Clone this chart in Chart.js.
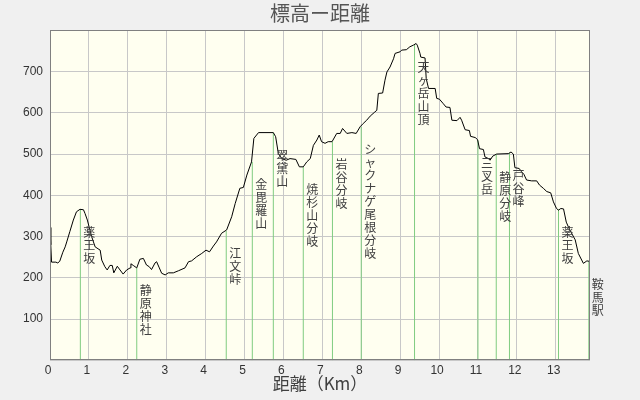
<!DOCTYPE html>
<html>
<head>
<meta charset="utf-8">
<script src="https://cdn.jsdelivr.net/npm/chart.js@4/dist/chart.umd.min.js"></script>
<style>
  html, body { margin: 0; padding: 0; background: #F0F0F0; }
  canvas { display: block; }
</style>
</head>
<body>
<canvas id="c" width="640" height="400"></canvas>
<script>
// ---- data ----
const distances = [0, 0.02, 0.04, 0.15, 0.2, 0.25, 0.33, 0.39, 0.43, 0.51, 0.6, 0.68, 0.77, 0.86, 0.9, 0.96, 1.02, 1.07, 1.16, 1.29, 1.33, 1.41, 1.47, 1.54, 1.6, 1.64, 1.73, 1.8, 1.88, 1.97, 2.06, 2.08, 2.14, 2.23, 2.31, 2.4, 2.48, 2.55, 2.61, 2.7, 2.74, 2.81, 2.87, 2.96, 3.04, 3.17, 3.3, 3.47, 3.56, 3.64, 3.77, 3.9, 4.01, 4.1, 4.2, 4.28, 4.41, 4.54, 4.67, 4.76, 4.88, 4.97, 5.06, 5.18, 5.24, 5.36, 5.74, 5.8, 5.87, 5.96, 6.07, 6.17, 6.32, 6.41, 6.51, 6.6, 6.69, 6.77, 6.86, 6.92, 6.98, 7.07, 7.15, 7.25, 7.37, 7.46, 7.52, 7.63, 7.76, 7.87, 7.97, 8.05, 8.14, 8.23, 8.35, 8.4, 8.44, 8.55, 8.61, 8.66, 8.74, 8.83, 8.87, 9.0, 9.04, 9.16, 9.25, 9.34, 9.41, 9.44, 9.51, 9.53, 9.64, 9.67, 9.73, 9.9, 9.94, 10.01, 10.11, 10.18, 10.28, 10.33, 10.46, 10.5, 10.54, 10.58, 10.67, 10.78, 10.81, 10.93, 10.99, 11.04, 11.14, 11.18, 11.27, 11.31, 11.38, 11.48, 11.78, 11.85, 11.91, 11.95, 12.06, 12.12, 12.18, 12.25, 12.38, 12.51, 12.58, 12.68, 12.77, 12.87, 12.94, 13.02, 13.07, 13.13, 13.2, 13.27, 13.35, 13.5, 13.58, 13.71, 13.8, 13.86];
const elevations = [322, 280, 238, 238, 236, 240, 262, 275, 287, 312, 340, 360, 366, 365, 356, 340, 318, 300, 275, 267, 243, 227, 219, 230, 230, 212, 228, 219, 209, 219, 224, 234, 230, 224, 245, 247, 231, 227, 220, 236, 239, 224, 211, 207, 212, 212, 217, 224, 239, 241, 251, 259, 267, 263, 277, 287, 308, 316, 348, 380, 417, 419, 449, 481, 538, 552, 552, 542, 501, 489, 485, 489, 487, 469, 469, 481, 489, 521, 534, 546, 530, 526, 530, 530, 550, 550, 562, 550, 552, 550, 566, 574, 582, 592, 602, 606, 647, 648, 679, 699, 711, 731, 744, 748, 752, 753, 760, 764, 768, 764, 744, 735, 733, 683, 659, 659, 635, 633, 622, 614, 613, 582, 581, 585, 589, 582, 559, 557, 543, 540, 535, 513, 511, 493, 489, 485, 495, 500, 501, 505, 500, 467, 465, 457, 451, 437, 435, 435, 425, 417, 409, 406, 384, 368, 364, 368, 367, 335, 318, 292, 259, 235, 241, 240];

const landmarkNames = ["薬王坂", "静原神社", "江文峠", "金毘羅山", "翠黛山", "焼杉山分岐", "岩谷分岐", "シャクナゲ尾根分岐", "天ヶ岳山頂", "三叉岳", "静原分岐", "戸谷峰", "薬王坂", "鞍馬駅"];
const landmarkKm = [0.78, 2.23, 4.53, 5.2, 5.74, 6.51, 7.26, 8.0, 9.37, 11.0, 11.47, 11.81, 13.07, 13.85];
const landmarkElev = [366, 224, 314, 481, 552, 469, 530, 566, 766, 533, 500, 503, 366, 240];

const xTickValues = [0, 1, 2, 3, 4, 5, 6, 7, 8, 9, 10, 11, 12, 13];
const yGridValues = [0, 100, 200, 300, 400, 500, 600, 700, 800];
const yTickLabels = [100, 200, 300, 400, 500, 600, 700];

const titleText = "標高ー距離";
const xTitleText = "距離（Km）";
const xMax = 13.88;
const yMax = 800;

// ---- build datasets ----
const profile = distances.map((d, i) => ({ x: d, y: elevations[i] }));
const markerLines = [];
landmarkKm.forEach((k, i) => {
  markerLines.push({ x: k, y: 0 }, { x: k, y: landmarkElev[i] }, { x: k, y: null });
});

const CJK = '"Noto Sans CJK JP", "Noto Sans", sans-serif';

const bgPlugin = {
  id: 'bg',
  beforeDraw(chart) {
    const { ctx, chartArea: a } = chart;
    ctx.save();
    ctx.fillStyle = '#F0F0F0';
    ctx.fillRect(0, 0, chart.width, chart.height);
    ctx.fillStyle = '#FFFFF0';
    ctx.fillRect(a.left, a.top, a.right - a.left, a.bottom - a.top);
    ctx.restore();
  },
  afterDraw(chart) {
    const { ctx, chartArea: a } = chart;
    ctx.save();
    ctx.strokeStyle = '#808080';
    ctx.lineWidth = 1;
    ctx.strokeRect(Math.round(a.left) + 0.5, Math.round(a.top) + 0.5, Math.round(a.right - a.left) - 1, Math.round(a.bottom - a.top) - 1);
    ctx.restore();
  }
};

const labelPlugin = {
  id: 'landmarkLabels',
  afterDatasetsDraw(chart) {
    const { ctx } = chart;
    const xs = chart.scales.x, ys = chart.scales.y;
    ctx.save();
    ctx.font = '12px ' + CJK;
    ctx.fillStyle = '#404040';
    ctx.textAlign = 'left';
    ctx.textBaseline = 'top';
    landmarkNames.forEach((name, i) => {
      const px = xs.getPixelForValue(landmarkKm[i]) + 3;
      const py = ys.getPixelForValue(landmarkElev[i]) + 17;
      Array.from(name).forEach((ch, j) => ctx.fillText(ch, px, py + j * 13));
    });
    ctx.restore();
  }
};

new Chart(document.getElementById('c'), {
  type: 'line',
  data: {
    datasets: [
      {
        data: profile,
        borderColor: '#000000',
        borderWidth: 1,
        pointRadius: 0,
        tension: 0,
        fill: false,
        order: 0
      },
      {
        data: markerLines,
        borderColor: '#80CC80',
        borderWidth: 1,
        pointRadius: 0,
        tension: 0,
        spanGaps: false,
        fill: false,
        order: 1
      }
    ]
  },
  options: {
    responsive: false,
    animation: false,
    devicePixelRatio: 1,
    layout: { padding: 0 },
    plugins: {
      legend: { display: false },
      tooltip: { enabled: false },
      title: {
        display: true,
        text: titleText,
        color: '#555555',
        font: { family: CJK, size: 20, weight: 'normal', lineHeight: 1 },
        padding: { top: 3, bottom: 7.3 }
      }
    },
    scales: {
      x: {
        type: 'linear',
        min: 0,
        max: xMax,
        afterBuildTicks: s => { s.ticks = xTickValues.map(v => ({ value: v })); },
        afterFit: s => { s.height = 39.7; },
        grid: { color: '#C8C8C8', drawTicks: false },
        border: { display: false },
        ticks: {
          color: '#333333',
          font: { family: '"Liberation Sans", Arial, sans-serif', size: 12 },
          padding: 3,
          labelOffset: -2,
          maxRotation: 0,
          autoSkip: false
        },
        title: {
          display: true,
          text: xTitleText,
          color: '#404040',
          font: { family: CJK, size: 17, lineHeight: 1.2 },
          padding: { top: 0, bottom: 6 }
        }
      },
      y: {
        type: 'linear',
        position: 'left',
        min: 0,
        max: yMax,
        afterBuildTicks: s => { s.ticks = yGridValues.map(v => ({ value: v })); },
        afterFit: s => { s.width = 50; },
        grid: { color: '#C8C8C8', drawTicks: false },
        border: { display: false },
        ticks: {
          color: '#333333',
          font: { family: '"Liberation Sans", Arial, sans-serif', size: 12 },
          padding: 7,
          callback: v => (yTickLabels.includes(v) ? String(v) : '')
        }
      },
      yRight: {
        type: 'linear',
        position: 'right',
        display: true,
        min: 0,
        max: yMax,
        afterFit: s => { s.width = 50; },
        grid: { display: false, drawOnChartArea: false, drawTicks: false },
        border: { display: false },
        ticks: { display: false }
      }
    }
  },
  plugins: [bgPlugin, labelPlugin]
});
</script>
</body>
</html>
